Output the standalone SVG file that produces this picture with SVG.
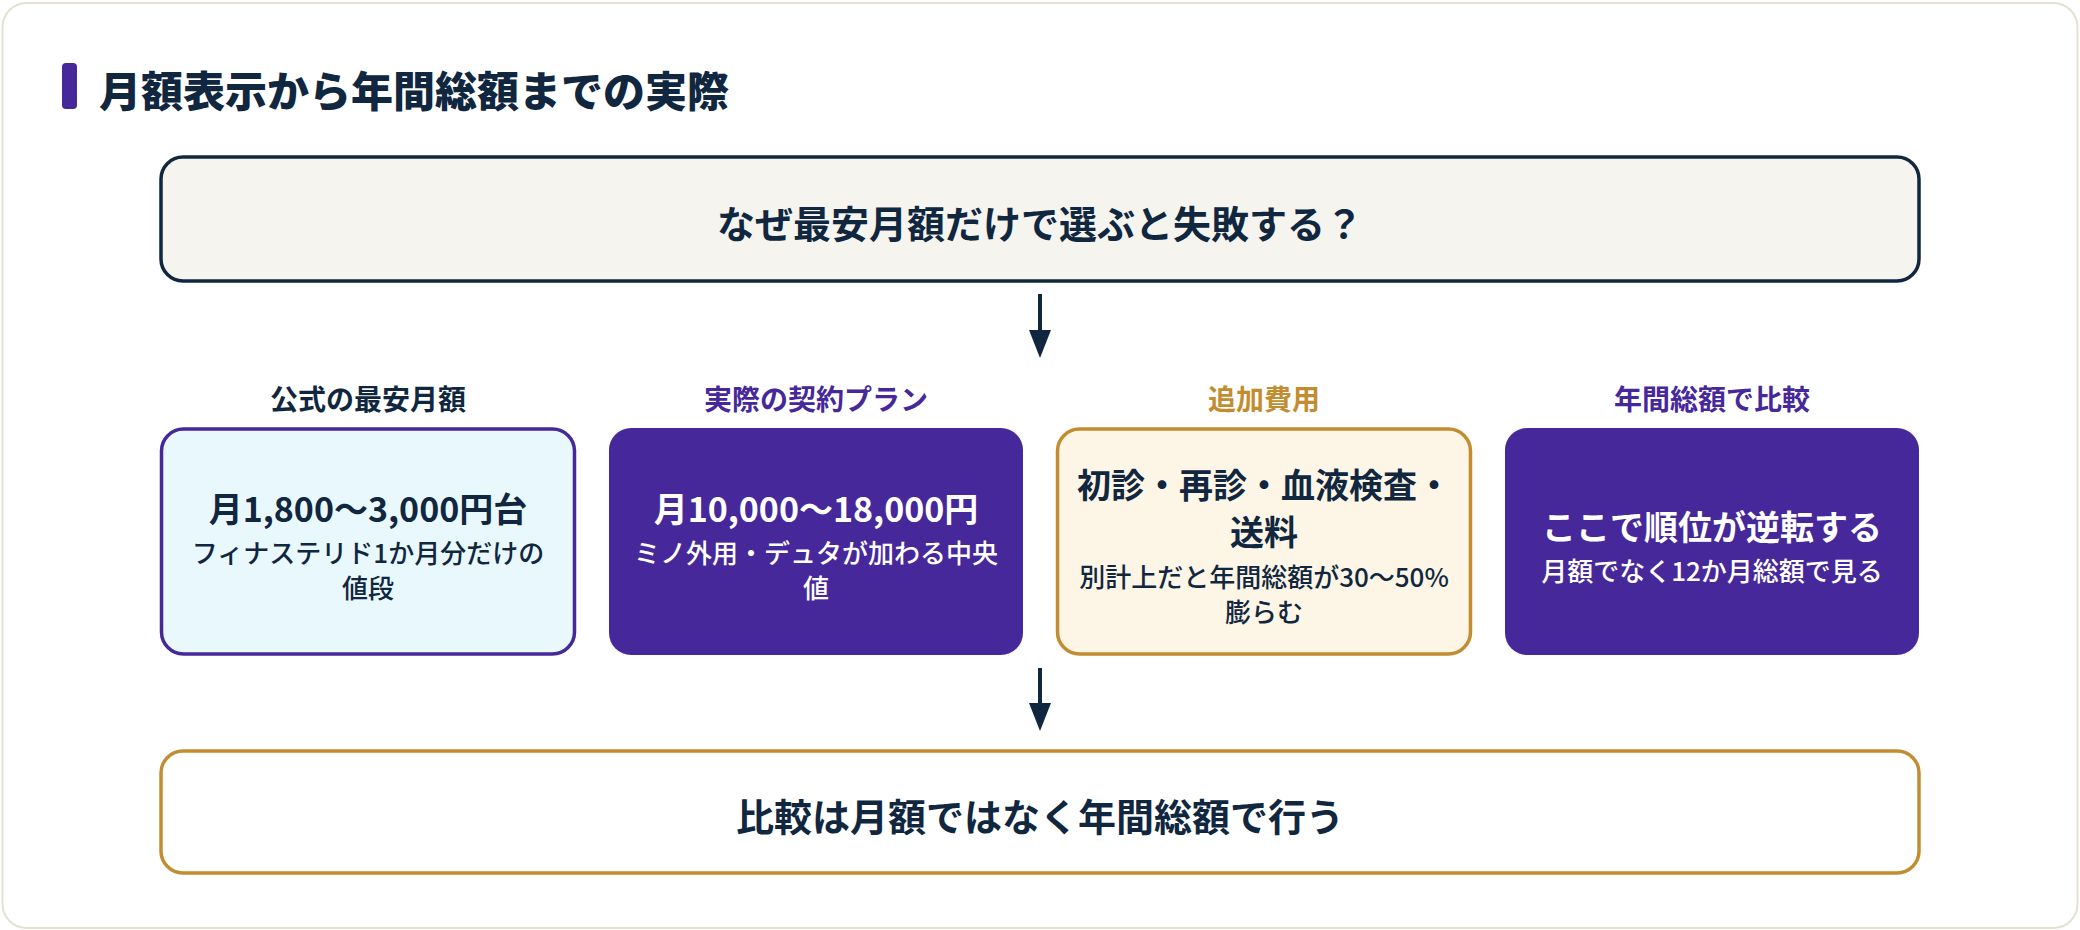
<svg xmlns="http://www.w3.org/2000/svg" width="2080" height="930" viewBox="0 0 2080 930">
<defs>
<style>
text{font-family:"Noto Sans CJK JP","Noto Sans",sans-serif;text-anchor:middle;dominant-baseline:central}
.title{font-size:42px;font-weight:800;fill:#10273f;text-anchor:start}
.big{font-size:38px;font-weight:700;fill:#10273f}
.hd{font-size:28px;font-weight:700}
.main{font-size:34px;font-weight:700}
.sub{font-size:26px;font-weight:500}
.dark{fill:#10273f}
.white{fill:#ffffff}
.purple{fill:#46289b}
.gold{fill:#c28d30}
.conn line{stroke:#10273f;stroke-width:4}
</style>
<marker id="ah" viewBox="0 0 28 22" markerWidth="28" markerHeight="22" refX="0" refY="11" orient="auto" markerUnits="userSpaceOnUse">
<path d="M0,0 L28,11 L0,22 Z" fill="#10273f"/>
</marker>
</defs>
<rect x="0" y="0" width="2080" height="930" fill="#ffffff"/>
<rect x="2.5" y="3" width="2075" height="925" rx="24" fill="#ffffff" stroke="#e4e1d3" stroke-width="2"/>

<g id="title">
<rect x="62" y="63" width="15" height="46" rx="4" fill="#46289b"/>
<text class="title" x="99" y="88">月額表示から年間総額までの実際</text>
</g>

<g id="question">
<rect x="161" y="157" width="1758" height="124" rx="22" fill="#f5f4ef" stroke="#10273f" stroke-width="3.5"/>
<text class="big" x="1040" y="221">なぜ最安月額だけで選ぶと失敗する？</text>
</g>

<g id="official">
<text class="hd dark" x="368" y="398">公式の最安月額</text>
<rect x="161.5" y="429" width="413" height="225" rx="22" fill="#e9f8fd" stroke="#46289b" stroke-width="3.5"/>
<text class="main dark" x="368" y="507">月1,800〜3,000円台</text>
<text class="sub dark" x="368" y="551.5">フィナステリド1か月分だけの</text>
<text class="sub dark" x="368" y="586">値段</text>
</g>

<g id="actual">
<text class="hd purple" x="816" y="398">実際の契約プラン</text>
<rect x="609" y="428" width="414" height="227" rx="22" fill="#46289b"/>
<text class="main white" x="816" y="507">月10,000〜18,000円</text>
<text class="sub white" x="816" y="551.5">ミノ外用・デュタが加わる中央</text>
<text class="sub white" x="816" y="586">値</text>
</g>

<g id="extra">
<text class="hd gold" x="1264" y="398">追加費用</text>
<rect x="1057.5" y="429" width="413" height="225" rx="22" fill="#fdf5e6" stroke="#c28d30" stroke-width="3.5"/>
<text class="main dark" x="1264" y="483.5">初診・再診・血液検査・</text>
<text class="main dark" x="1264" y="530.5">送料</text>
<text class="sub dark" x="1264" y="575">別計上だと年間総額が30〜50%</text>
<text class="sub dark" x="1264" y="610">膨らむ</text>
</g>

<g id="annual">
<text class="hd purple" x="1712" y="398">年間総額で比較</text>
<rect x="1505" y="428" width="414" height="227" rx="22" fill="#46289b"/>
<text class="main white" x="1712" y="525">ここで順位が逆転する</text>
<text class="sub white" x="1712" y="569">月額でなく12か月総額で見る</text>
</g>

<g id="conclusion">
<rect x="161" y="751" width="1758" height="122" rx="22" fill="#ffffff" stroke="#c28d30" stroke-width="3.5"/>
<text class="big" x="1040" y="814">比較は月額ではなく年間総額で行う</text>
</g>

<g id="connectors" class="conn">
<line x1="1040" y1="294" x2="1040" y2="330" marker-end="url(#ah)"/>
<line x1="1040" y1="668" x2="1040" y2="703" marker-end="url(#ah)"/>
</g>
</svg>
